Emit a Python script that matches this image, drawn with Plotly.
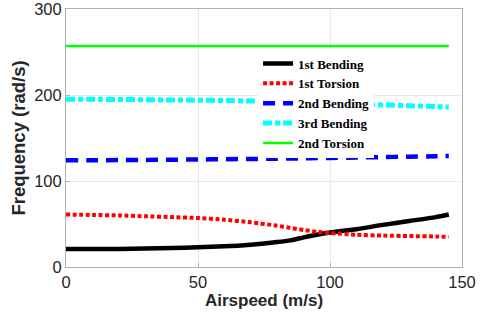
import plotly.graph_objects as go

airspeed = [0, 10, 20, 30, 40, 50, 60, 70, 80, 85, 90, 95, 100, 110, 120, 130, 140, 145]
bend1 = [21, 21, 21, 21.5, 22, 23, 24, 26, 29, 31, 34.5, 37.5, 40, 44, 49, 53.5, 58, 61]
tors1 = [61, 60.5, 60, 59, 58, 57, 55, 52, 48, 45.5, 43, 41, 39.5, 37.5, 36.5, 36, 35.5, 35]
bend2 = [124, 124, 124.3, 124.5, 124.8, 125, 125.3, 125.6, 126, 126.2, 126.4, 126.6, 126.8, 127.3, 127.8, 128.3, 128.8, 129]
bend3 = [195, 195, 194.8, 194.5, 194.2, 194, 193.5, 193, 192.3, 192, 191.5, 191, 190.5, 189.5, 188.5, 187.5, 186.5, 186]
tors2 = [257] * len(airspeed)

names = ["1st Bending", "1st Torsion", "2nd Bending", "3rd Bending", "2nd Torsion"]
series = [bend1, tors1, bend2, bend3, tors2]
colors = ["#000000", "#ff0000", "#0000ff", "#00ffff", "#00ff00"]
widths = [4.5, 4, 4.5, 5, 2.5]
dashes = ["solid", "4px,2.5px", "12px,8px", "9px,3px,5px,3px", "solid"]

tickfont = dict(family="Liberation Sans", size=16.5, color="#262626")

fig = go.Figure()
for n, y, c, w, d in zip(names, series, colors, widths, dashes):
    fig.add_trace(go.Scatter(x=airspeed, y=y, mode="lines", name=n,
                             line=dict(color=c, width=w, dash=d, shape="spline", smoothing=0.6)))

fig.update_layout(
    width=480, height=325,
    margin=dict(l=66, r=18, t=9, b=58),
    paper_bgcolor="white", plot_bgcolor="white",
    showlegend=True,
    legend=dict(x=0.485, y=0.847, xanchor="left", yanchor="top",
                bgcolor="white", borderwidth=0,
                font=dict(family="Liberation Serif", size=13, color="black", weight="bold"),
                tracegroupgap=0, itemwidth=30),
    xaxis=dict(range=[0, 150], tickvals=[0, 50, 100, 150], showgrid=True,
               gridcolor="#e8e8e8", gridwidth=1, zeroline=False, automargin=False,
               showline=True, linecolor="#b0b0b0", linewidth=1, mirror=True,
               ticks="inside", ticklen=4, tickcolor="#b0b0b0",
               tickfont=tickfont, ticklabeloverflow="allow",
               title=dict(text="<b>Airspeed (m/s)</b>", standoff=4,
                          font=dict(family="Liberation Sans", size=17, color="#262626"))),
    yaxis=dict(range=[0, 300], tickvals=[0, 100, 200, 300], showgrid=True,
               gridcolor="#e8e8e8", gridwidth=1, zeroline=False, automargin=False,
               showline=True, linecolor="#b0b0b0", linewidth=1, mirror=True,
               ticks="inside", ticklen=4, tickcolor="#b0b0b0",
               tickfont=tickfont, ticklabeloverflow="allow",
               title=dict(text="<b>Frequency (rad/s)</b>", standoff=3,
                          font=dict(family="Liberation Sans", size=18.5, color="#262626"))),
)

fig.write_html("out.html")
